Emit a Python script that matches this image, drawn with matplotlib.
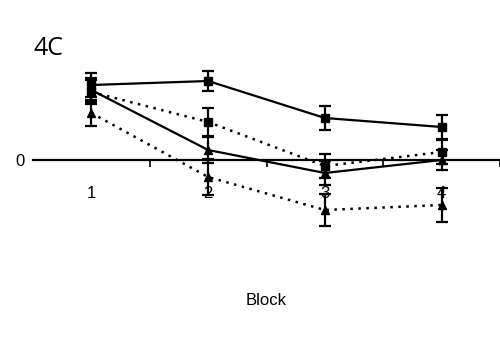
import matplotlib
matplotlib.use("Agg")
import matplotlib.pyplot as plt
from matplotlib import font_manager

blocks = [1, 2, 3, 4]
block_labels = ["1", "2", "3", "4"]

solid_sq = [7.5, 7.9, 4.2, 3.3]
solid_sq_err = [1.2, 1.0, 1.2, 1.2]
solid_tri = [7.0, 1.0, -1.3, 0.0]
solid_tri_err = [1.2, 1.3, 1.2, 1.0]
dot_sq = [6.8, 3.8, -0.6, 0.8]
dot_sq_err = [1.2, 1.4, 1.2, 1.2]
dot_tri = [4.7, -1.7, -5.0, -4.5]
dot_tri_err = [1.3, 1.8, 1.6, 1.7]

names = {f.name for f in font_manager.fontManager.ttflist}
narrow = "Liberation Sans Narrow" if "Liberation Sans Narrow" in names else "Liberation Sans"

fig = plt.figure(figsize=(5, 3.58), dpi=100)
ax = fig.add_axes([0.066, 0.0, 0.934, 1.0])
ax.set_xlim(0.5, 4.5)
ax.set_ylim(-19.8, 16)

common = dict(color="black", ecolor="black", elinewidth=1.6, capsize=4.3,
              capthick=1.6, markersize=6, clip_on=False)
ax.errorbar(blocks, solid_sq, yerr=solid_sq_err, fmt="s-", lw=1.6, **common)
ax.errorbar(blocks, solid_tri, yerr=solid_tri_err, fmt="^-", lw=1.6, **common)
ax.errorbar(blocks, dot_sq, yerr=dot_sq_err, fmt="s", ls=(0, (1, 2.2)), lw=1.8, **common)
ax.errorbar(blocks, dot_tri, yerr=dot_tri_err, fmt="^", ls=(0, (1, 2.2)), lw=1.8, **common)

for s in ["top", "right", "left"]:
    ax.spines[s].set_visible(False)
ax.spines["bottom"].set_position(("data", 0))
ax.spines["bottom"].set_linewidth(1.6)

ax.set_xticks([1.5, 2.5, 3.5, 4.5])
ax.set_xticklabels([])
ax.tick_params(axis="x", which="major", direction="out", length=5, width=1.2)
ax.set_xticks(blocks, minor=True)
ax.set_xticklabels(block_labels, minor=True, fontsize=12, family=narrow)
ax.tick_params(axis="x", which="minor", length=0, pad=19)

ax.set_yticks([0])
ax.set_yticklabels(["0"], fontsize=12, family=narrow)
ax.tick_params(axis="y", length=0, pad=6)

fig.text(0.066, 0.865, "4C", fontsize=18, family="Open Sans", ha="left", va="center")
fig.text(0.532, 0.16, "Block", fontsize=12, family=narrow, ha="center", va="center")

fig.savefig("out.png", dpi=100)
